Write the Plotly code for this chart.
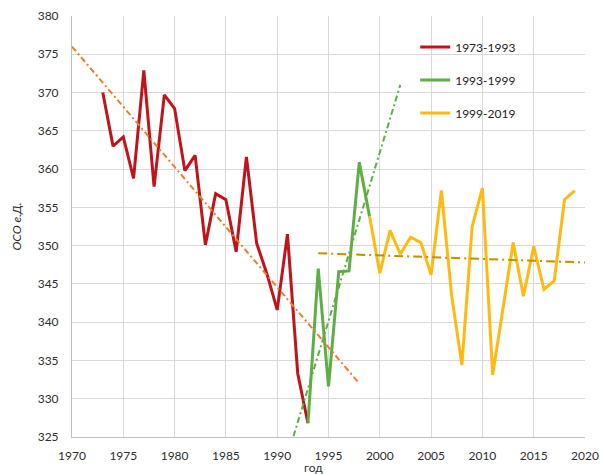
import plotly.graph_objects as go

# ---- data ----
years_a = list(range(1973, 1994))
vals_a = [370.0, 363.0, 364.2, 358.8, 372.9, 357.7, 369.7, 367.9, 359.8, 361.8,
          350.1, 356.8, 356.0, 349.2, 361.6, 350.3, 346.3, 341.6, 351.5, 333.3, 326.8]

years_b = list(range(1993, 2000))
vals_b = [326.8, 347.0, 331.6, 346.6, 346.7, 360.9, 353.8]

years_c = list(range(1999, 2020))
vals_c = [353.8, 346.4, 352.0, 348.9, 351.1, 350.4, 346.2, 357.2, 343.5, 334.4,
          352.5, 357.5, 333.1, 342.0, 350.4, 343.4, 349.9, 344.3, 345.4, 356.0, 357.2]

# trend lines (endpoints)
trend_a_x = [1970, 1998]
trend_a_y = [376.0, 332.0]
trend_b_x = [1990.0, 2002.0]
trend_b_y = [318.1, 371.0]
trend_c_x = [1994, 2020]
trend_c_y = [349.0, 347.8]

names = ["1973-1993", "1993-1999", "1999-2019"]
x_ticks = list(range(1970, 2021, 5))
y_ticks = list(range(325, 381, 5))

RED = "#C0141C"
GREEN = "#5FAE45"
YELLOW = "#FFBA12"
ORANGE = "#ED7D31"
OLIVE = "#BF9000"
FONT = "Lato"
TXT = "#2e2e2e"

fig = go.Figure()
fig.add_trace(go.Scatter(x=years_a, y=vals_a, mode="lines", name=names[0],
                         line=dict(color=RED, width=3), legendgroup="a"))
fig.add_trace(go.Scatter(x=years_b, y=vals_b, mode="lines", name=names[1],
                         line=dict(color=GREEN, width=3), legendgroup="b"))
fig.add_trace(go.Scatter(x=years_c, y=vals_c, mode="lines", name=names[2],
                         line=dict(color=YELLOW, width=3), legendgroup="c"))
fig.add_trace(go.Scatter(x=trend_a_x, y=trend_a_y, mode="lines", showlegend=False,
                         line=dict(color=ORANGE, width=2, dash="6px,3px,2px,3px")))
fig.add_trace(go.Scatter(x=trend_b_x, y=trend_b_y, mode="lines", showlegend=False,
                         line=dict(color=GREEN, width=2, dash="6px,3px,2px,3px")))
fig.add_trace(go.Scatter(x=trend_c_x, y=trend_c_y, mode="lines", showlegend=False,
                         line=dict(color=OLIVE, width=2, dash="9px,4px,2px,4px")))

fig.update_layout(
    width=600, height=474,
    margin=dict(l=72, r=15, t=16, b=37),
    paper_bgcolor="white", plot_bgcolor="white",
    font=dict(family=FONT, size=12, color=TXT),
    legend=dict(x=0.669, y=0.961, xanchor="left", yanchor="top",
                bgcolor="rgba(0,0,0,0)", tracegroupgap=14,
                font=dict(family=FONT, size=12, color="#222222")),
    annotations=[dict(text="год", x=1993.5, xref="x", y=-0.051, yref="paper",
                      yanchor="top", showarrow=False,
                      font=dict(family=FONT, size=12, color=TXT))],
)
fig.update_xaxes(range=[1970, 2020], tickvals=x_ticks, showgrid=True,
                 gridcolor="#d9d9d9", gridwidth=1, showline=True,
                 linecolor="#bfbfbf", linewidth=1, zeroline=False,
                 ticks="", ticklabelstandoff=8, automargin=False,
                 ticklabeloverflow="allow",
                 tickfont=dict(family=FONT, size=12, color=TXT))
fig.update_yaxes(range=[325, 380], tickvals=y_ticks, showgrid=True,
                 gridcolor="#d9d9d9", gridwidth=1, showline=True,
                 linecolor="#bfbfbf", linewidth=1, zeroline=False,
                 ticks="", ticklabelstandoff=10, automargin=False,
                 ticklabeloverflow="allow",
                 tickfont=dict(family=FONT, size=12, color=TXT),
                 title=dict(text="ОСО е.Д.", standoff=13,
                            font=dict(family=FONT, size=12, color=TXT, style="italic")))

fig.write_html("out.html", config={"displayModeBar": False},
               post_script="document.body.style.margin='0';document.body.style.overflow='hidden';")
